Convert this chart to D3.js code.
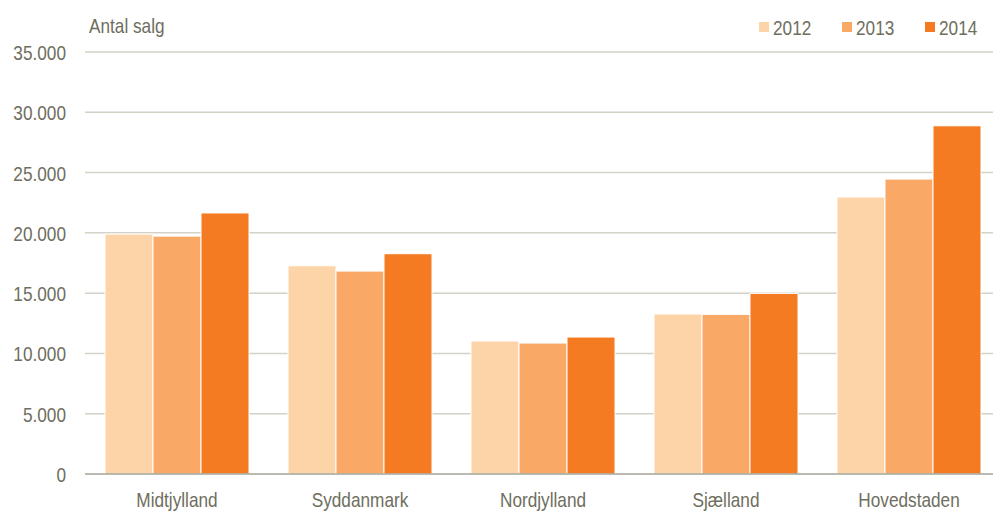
<!DOCTYPE html>
<html><head><meta charset="utf-8">
<script src="https://cdn.jsdelivr.net/npm/d3@7"></script>
<style>body{margin:0;background:#fff;} svg{display:block;font-family:"Liberation Sans",Arial,sans-serif;}</style>
</head><body>
<svg id="c" width="993" height="524"></svg>
<script>
const categories = ["Midtjylland","Syddanmark","Nordjylland","Sjælland","Hovedstaden"];
const years = ["2012","2013","2014"];
const values2012 = [19900, 17270, 11030, 13270, 22970];
const values2013 = [19730, 16830, 10860, 13240, 24460];
const values2014 = [21650, 18270, 11360, 14980, 28880];
const yTicks = [0,5000,10000,15000,20000,25000,30000,35000];
const colors = ["#fcd4a8","#f9a866","#f47b22"];

(function(){
const series = [values2012, values2013, values2014];
const svg = d3.select("#c");
const pLeft = 85.5, pRight = 1000.5, pTop = 52, pBottom = 474;
const y = d3.scaleLinear().domain([0,35000]).range([pBottom, pTop]);
const x0 = d3.scaleBand().domain(categories).range([pLeft, pRight]).padding(0);
const inner = 19.5;
const x1 = d3.scaleBand().domain(years).range([inner, x0.bandwidth()-inner]).padding(0);
const fmt = d3.formatLocale({decimal:",", thousands:".", grouping:[3], currency:["","kr"]}).format(",d");
const textCol = "#6e6e5e";
const fs = "21px";
const sx = "scale(0.82,1)";

const yAxis = d3.axisLeft(y).tickValues(yTicks).tickSize(0).tickFormat(fmt);
const gA = svg.append("g").attr("transform", "translate(66,0)").call(yAxis);
gA.select(".domain").remove();
gA.selectAll("text").attr("fill", textCol).style("font-size",fs).style("font-family","inherit")
  .attr("x",0).attr("dy","0.36em").attr("transform", sx);

svg.append("g").selectAll("line").data(yTicks.filter(d=>d>0)).join("line")
  .attr("x1", 85).attr("x2", 993).attr("y1", d=>y(d)).attr("y2", d=>y(d))
  .attr("stroke", "#d2d2c6").attr("stroke-width", 1.5);

const g = svg.append("g");
categories.forEach((c,i)=>{
  years.forEach((yr,j)=>{
    const v = series[j][i];
    g.append("rect")
      .attr("x", x0(c)+x1(yr)).attr("width", x1.bandwidth())
      .attr("y", y(v)).attr("height", y(0)-y(v))
      .attr("fill", colors[j]).attr("stroke","#fff").attr("stroke-width",1);
  });
});

svg.append("line").attr("x1",85).attr("x2",993).attr("y1",y(0)).attr("y2",y(0))
  .attr("stroke","#a3a396").attr("stroke-width",1.5);

const xAxis = d3.axisBottom(x0).tickSize(0).tickPadding(0);
const gx = svg.append("g").attr("transform", `translate(0,${pBottom})`).call(xAxis);
gx.select(".domain").remove();
gx.selectAll("text").attr("fill", textCol).style("font-size",fs).style("font-family","inherit")
  .attr("x",0).attr("y", 33.5).attr("dy", 0).attr("transform", sx);

svg.append("g").attr("transform","translate(89,33.3)")
  .append("text").attr("fill", textCol).style("font-size",fs).attr("transform", sx).text("Antal salg");

const legX = [759, 842, 925];
years.forEach((yr,j)=>{
  svg.append("rect").attr("x", legX[j]).attr("y", 22).attr("width", 10).attr("height", 10).attr("fill", colors[j]);
  svg.append("g").attr("transform", `translate(${legX[j]+14},35)`)
    .append("text").attr("fill", textCol).style("font-size",fs).attr("transform", sx).text(yr);
});
})();
</script>
</body></html>
